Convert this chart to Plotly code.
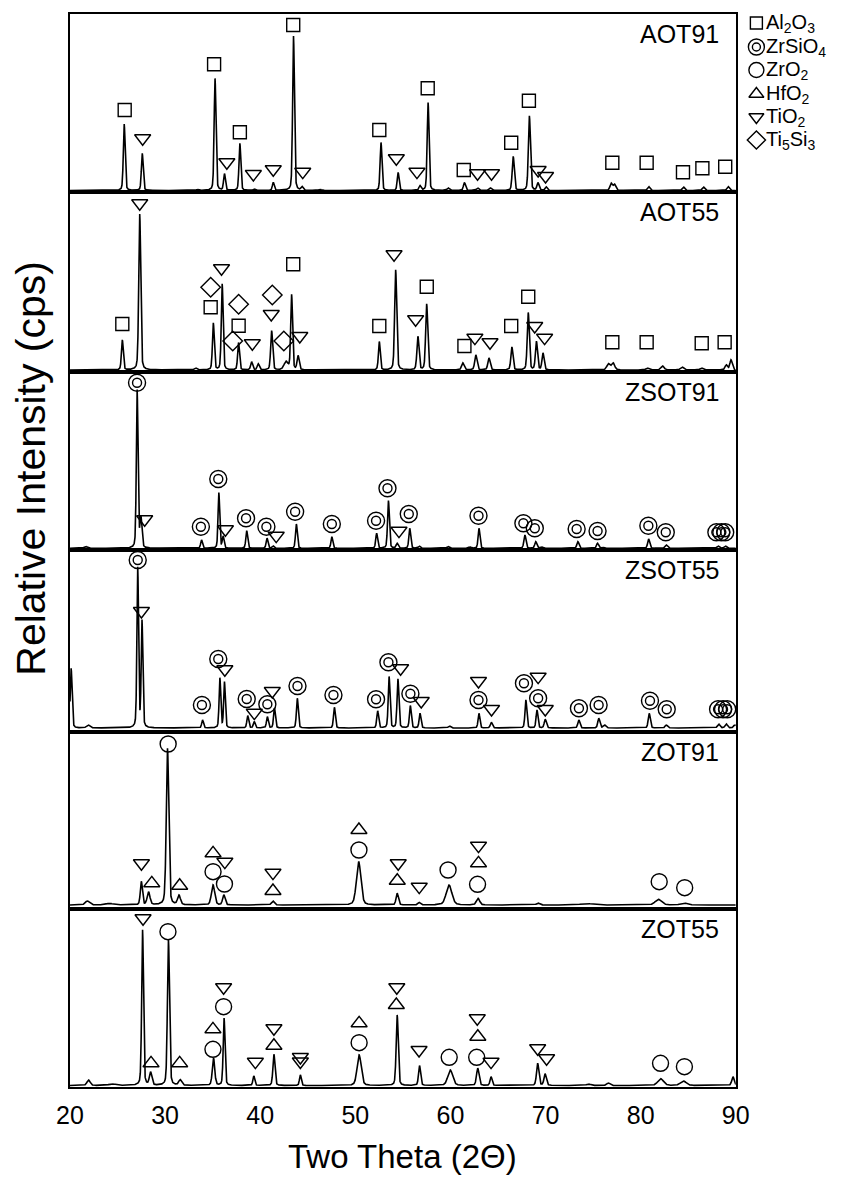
import numpy as np
import plotly.graph_objects as go

# ---------------- data ----------------
samples = ["AOT91", "AOT55", "ZSOT91", "ZSOT55", "ZOT91", "ZOT55"]

two_theta = np.round(np.arange(20.0, 90.0001, 0.01), 2)

# diffraction peaks: (2-theta, net intensity above background, FWHM)
aot91_peaks = [
    (25.70, 66.5, 0.22), (27.60, 37.0, 0.22), (33.40, 1.0, 0.30), (35.25, 112.0, 0.22),
    (36.24, 16.5, 0.22), (37.86, 47.0, 0.22), (39.37, 1.5, 0.25), (41.37, 8.0, 0.22),
    (43.50, 154.5, 0.22), (44.40, 3.5, 0.25), (46.30, 1.0, 0.30), (52.70, 48.0, 0.22),
    (54.50, 18.0, 0.22), (56.80, 4.5, 0.25), (57.65, 88.0, 0.22), (59.75, 2.5, 0.30),
    (61.47, 8.0, 0.25), (62.85, 2.5, 0.30), (64.20, 2.5, 0.30), (66.60, 34.0, 0.25),
    (68.30, 74.5, 0.25), (69.20, 7.5, 0.25), (70.07, 3.5, 0.25), (76.90, 7.0, 0.30),
    (77.25, 6.0, 0.30), (80.84, 4.0, 0.30), (84.50, 3.5, 0.30), (86.60, 3.5, 0.30),
    (89.20, 4.0, 0.30),
]
aot55_peaks = [
    (25.50, 30.0, 0.22), (27.33, 156.0, 0.24), (33.20, 2.0, 0.30), (35.07, 46.7, 0.22),
    (36.00, 86.0, 0.22), (37.72, 27.3, 0.22), (39.10, 8.0, 0.25), (39.79, 6.0, 0.25),
    (41.20, 39.3, 0.24), (42.71, 8.0, 0.50), (43.30, 75.0, 0.22), (43.98, 14.0, 0.25),
    (52.52, 28.3, 0.22), (54.24, 100.0, 0.25), (56.58, 33.3, 0.25), (57.50, 66.0, 0.25),
    (61.30, 7.0, 0.30), (62.67, 15.0, 0.28), (64.05, 12.0, 0.28), (66.46, 23.0, 0.25),
    (68.18, 57.3, 0.25), (69.04, 28.3, 0.25), (69.73, 16.7, 0.25), (76.60, 6.0, 0.40),
    (77.10, 7.0, 0.40), (80.70, 2.0, 0.40), (82.30, 4.0, 0.40), (84.35, 3.0, 0.40),
    (86.40, 2.0, 0.40), (89.00, 5.0, 0.30), (89.50, 10.0, 0.30),
]
zsot91_peaks = [
    (21.65, 1.8, 0.40), (27.06, 158.0, 0.20), (27.45, 30.0, 0.25), (33.83, 8.3, 0.22),
    (35.65, 55.6, 0.20), (36.10, 11.6, 0.22), (38.58, 17.6, 0.22), (40.72, 10.0, 0.22),
    (41.34, 2.3, 0.25), (43.80, 24.3, 0.22), (47.53, 11.6, 0.22), (52.24, 15.0, 0.22),
    (53.48, 47.6, 0.22), (54.40, 4.8, 0.25), (55.72, 20.0, 0.22), (56.72, 2.3, 0.25),
    (59.75, 1.8, 0.30), (62.05, 1.3, 0.30), (63.00, 20.0, 0.22), (67.83, 13.3, 0.25),
    (68.97, 6.6, 0.25), (69.60, 1.3, 0.30), (73.40, 6.6, 0.25), (75.47, 5.0, 0.25),
    (76.00, 1.3, 0.30), (80.84, 9.3, 0.25), (82.70, 3.3, 0.30), (88.14, 2.3, 0.30),
    (88.90, 2.3, 0.30),
]
zsot55_peaks = [
    (20.12, 59.7, 0.22), (21.90, 3.0, 0.40), (27.12, 159.7, 0.20), (27.57, 106.3, 0.20),
    (33.94, 8.0, 0.22), (35.76, 49.7, 0.20), (36.24, 45.7, 0.20), (38.69, 12.3, 0.22),
    (39.37, 6.3, 0.22), (40.75, 11.3, 0.22), (41.50, 19.7, 0.22), (43.90, 29.7, 0.22),
    (47.80, 20.7, 0.22), (52.35, 17.0, 0.22), (53.55, 51.3, 0.22), (54.48, 49.0, 0.22),
    (55.78, 22.3, 0.22), (56.80, 14.7, 0.22), (59.90, 2.0, 0.30), (63.00, 14.7, 0.22),
    (64.30, 5.7, 0.25), (67.93, 28.0, 0.22), (69.10, 18.0, 0.22), (69.97, 8.7, 0.25),
    (73.50, 8.0, 0.25), (75.60, 9.7, 0.25), (76.20, 3.0, 0.30), (80.90, 14.7, 0.25),
    (82.70, 3.0, 0.30), (88.20, 4.0, 0.30), (89.00, 4.0, 0.30), (89.90, 3.0, 0.30),
]
zot91_peaks = [
    (21.82, 4.0, 0.50), (24.13, 1.5, 1.00), (27.50, 23.3, 0.25), (28.26, 12.7, 0.35),
    (30.25, 156.7, 0.30), (31.46, 9.3, 0.35), (35.04, 20.0, 0.40), (36.17, 10.0, 0.30),
    (41.33, 4.0, 0.35), (50.35, 43.3, 0.55), (54.40, 11.7, 0.28), (56.70, 2.5, 0.30),
    (59.85, 20.0, 0.70), (62.90, 6.7, 0.40), (69.20, 2.0, 0.40), (74.30, 1.5, 1.50),
    (81.87, 5.7, 0.80), (84.53, 2.0, 0.80),
]
zot55_peaks = [
    (21.95, 5.5, 0.40), (24.40, 1.5, 0.80), (27.63, 155.5, 0.22), (28.47, 12.8, 0.30),
    (30.35, 145.5, 0.25), (31.58, 5.5, 0.35), (35.09, 27.2, 0.30), (36.20, 67.2, 0.22),
    (39.32, 9.5, 0.22), (41.44, 31.2, 0.25), (44.22, 10.5, 0.22), (50.40, 30.5, 0.50),
    (54.40, 70.5, 0.25), (56.75, 19.8, 0.25), (59.98, 15.5, 0.60), (62.87, 17.2, 0.30),
    (64.27, 8.8, 0.25), (69.17, 22.2, 0.28), (69.95, 11.5, 0.28), (74.50, 1.5, 0.50),
    (76.60, 2.5, 0.40), (82.10, 6.8, 0.70), (84.50, 4.5, 0.70), (89.70, 8.8, 0.30),
]
peak_tables = [aot91_peaks, aot55_peaks, zsot91_peaks, zsot55_peaks, zot91_peaks, zot55_peaks]
background = [1.5, 2.0, 1.7, 4.0, 4.0, 1.5]

# phase identification marks: sample -> phase -> ([2-theta], [intensity])
phase_marks = {
    "AOT91": {
        "Al2O3": ([25.75, 35.15, 37.86, 43.47, 52.52, 57.61, 61.40, 66.39, 68.25, 77.02, 80.63, 84.45, 86.49, 88.89],
                  [82, 127.7, 59.7, 167, 62, 103.7, 22, 49.3, 91.3, 29.3, 29.3, 19.7, 23.7, 25.3]),
        "TiO2": ([27.64, 36.49, 39.28, 41.37, 44.47, 54.31, 56.48, 62.85, 64.32, 69.22, 70.00],
                 [53.7, 29.7, 18, 22.7, 20.3, 33.7, 20.3, 18.7, 18.7, 22, 16]),
    },
    "AOT55": {
        "Al2O3": ([25.50, 34.79, 37.73, 43.47, 52.52, 57.51, 61.47, 66.39, 68.18, 77.02, 80.63, 86.42, 88.83],
                  [48, 64.7, 46.3, 107.7, 46, 85.3, 26, 46, 75.3, 29.7, 29.7, 28.7, 29.7]),
        "TiO2": ([27.33, 35.93, 39.17, 41.16, 44.16, 54.07, 56.34, 62.57, 64.16, 68.86, 69.90],
                 [168.7, 103.7, 28.7, 58, 36, 117.7, 52.7, 34.3, 29.7, 46, 34.3]),
        "Ti5Si3": ([34.79, 37.73, 37.11, 41.27, 42.48],
                   [84.7, 67.7, 31, 77, 31]),
    },
    "ZSOT91": {
        "ZrSiO4": ([27.05, 33.76, 35.59, 38.51, 40.65, 43.67, 47.53, 52.18, 53.38, 55.62, 62.95, 67.67, 68.87,
                    73.27, 75.47, 80.81, 82.64, 87.96, 88.48, 88.89],
                   [167.3, 23.3, 71, 31.7, 23.3, 38.3, 26, 29.3, 61.7, 36, 34.3, 26.7, 21.7,
                    21, 19, 24.3, 17.7, 17.7, 17.7, 17.7]),
        "TiO2": ([27.85, 36.34, 41.68, 54.59], [30.7, 20.7, 14.3, 19.3]),
    },
    "ZSOT55": {
        "ZrSiO4": ([27.12, 33.87, 35.59, 38.58, 40.75, 43.92, 47.70, 52.18, 53.48, 55.79, 62.95, 67.73, 69.22,
                    73.51, 75.58, 80.98, 82.74, 88.14, 88.66, 89.10],
                   [172, 27, 73, 33, 27.7, 46, 37, 32.7, 69.7, 38.3, 32, 48.7, 33.7,
                    23.7, 27, 31.3, 22.7, 22.7, 22.7, 22.7]),
        "TiO2": ([27.51, 36.28, 39.38, 41.27, 54.76, 56.93, 62.95, 64.32, 69.22, 69.97],
                 [121, 62.7, 19.3, 41, 63.7, 31, 51, 23, 55.3, 23]),
    },
    "ZOT91": {
        "ZrO2": ([30.32, 35.04, 36.24, 50.38, 59.75, 62.85, 81.95, 84.63],
                 [165, 37.3, 25, 59, 39, 24.7, 27.3, 21.3]),
        "HfO2": ([28.60, 31.53, 35.04, 41.34, 50.38, 54.41, 62.95],
                 [25.7, 23.3, 55.7, 18, 79, 28.3, 45.7]),
        "TiO2": ([27.51, 36.28, 41.34, 54.51, 56.72, 62.95],
                 [45.7, 47.3, 36.3, 45.7, 22.3, 63.3]),
    },
    "ZOT55": {
        "ZrO2": ([30.30, 35.03, 36.15, 50.40, 59.87, 62.76, 82.09, 84.60],
                 [155.3, 37.7, 80.3, 44.3, 29.7, 29.7, 23.7, 20.3]),
        "HfO2": ([28.52, 31.53, 35.03, 41.44, 50.40, 54.31, 62.88],
                 [23.7, 23.7, 57.7, 41.3, 63.7, 82, 50.3]),
        "TiO2": ([27.68, 36.15, 39.49, 41.44, 44.22, 44.22, 54.36, 56.70, 62.82, 64.27, 69.17, 70.11],
                 [168.7, 99.7, 25.3, 58.7, 30, 25.5, 99.7, 37, 68.7, 25.3, 38.7, 28.7]),
    },
}

phases = ["Al2O3", "ZrSiO4", "ZrO2", "HfO2", "TiO2", "Ti5Si3"]
phase_labels = ["Al<sub>2</sub>O<sub>3</sub>", "ZrSiO<sub>4</sub>", "ZrO<sub>2</sub>",
                "HfO<sub>2</sub>", "TiO<sub>2</sub>", "Ti<sub>5</sub>Si<sub>3</sub>"]
x_ticks = [20, 30, 40, 50, 60, 70, 80, 90]

# ---------------- layout geometry ----------------
W, H = 846, 1177
L_PX, R_PX, T_PX, B_PX = 70, 748, 14, 1087
panel_edges = [14, 192, 372, 550, 732, 909, 1087]
plot_w = W - L_PX
plot_h = B_PX - T_PX
x_dom_end = (R_PX - L_PX) / plot_w

symbol_style = {
    "Al2O3": [dict(symbol="square-open", size=13)],
    "ZrSiO4": [dict(symbol="circle-open", size=17), dict(symbol="circle-open", size=9)],
    "ZrO2": [dict(symbol="circle-open", size=16)],
    "HfO2": [dict(symbol="triangle-up-open", size=14)],
    "TiO2": [dict(symbol="triangle-down-open", size=14)],
    "Ti5Si3": [dict(symbol="diamond-open", size=15)],
}

FONT = "Liberation Sans, Arial, Helvetica, sans-serif"


def profile(peaks, base):
    y = np.full_like(two_theta, base, dtype=float)
    for pos, h, w in peaks:
        d = (two_theta - pos) / (w / 2.0)
        y += h * (0.3 / (1.0 + d ** 2) + 0.7 * np.exp(-np.log(2.0) * d ** 2))
    return y


fig = go.Figure()
layout_axes = {}
annotations = []

for i, name in enumerate(samples):
    k = i + 1
    xa = "x" if k == 1 else f"x{k}"
    ya = "y" if k == 1 else f"y{k}"
    top, bot = panel_edges[i], panel_edges[i + 1]
    dom = [(B_PX - bot) / plot_h, (B_PX - top) / plot_h]
    span = bot - top

    fig.add_trace(go.Scatter(
        x=two_theta, y=profile(peak_tables[i], background[i]),
        mode="lines", line=dict(color="black", width=1.6),
        xaxis=xa, yaxis=ya, showlegend=False, hoverinfo="skip"))

    for ph, (px, py) in phase_marks[name].items():
        for st in symbol_style[ph]:
            fig.add_trace(go.Scatter(
                x=px, y=py, mode="markers", xaxis=xa, yaxis=ya, showlegend=False,
                marker=dict(symbol=st["symbol"], size=st["size"], color="black",
                            line=dict(color="black", width=1.4)),
                cliponaxis=False, hoverinfo="skip"))

    bottom_panel = (k == len(samples))
    layout_axes["xaxis" if k == 1 else f"xaxis{k}"] = dict(
        domain=[0, x_dom_end], range=[20, 90], anchor=ya,
        showline=True, linecolor="black", linewidth=2, mirror=True,
        showgrid=False, zeroline=False,
        tickvals=x_ticks if bottom_panel else [],
        ticks="outside" if bottom_panel else "", ticklen=5, tickcolor="rgba(0,0,0,0)",
        showticklabels=bottom_panel,
        tickfont=dict(family=FONT, size=25, color="black"),
    )
    layout_axes["yaxis" if k == 1 else f"yaxis{k}"] = dict(
        domain=dom, range=[0, span], anchor=xa,
        showline=True, linecolor="black", linewidth=2, mirror=True,
        showgrid=False, zeroline=False, showticklabels=False, ticks="",
    )
    annotations.append(dict(
        text=name, xref="paper", yref="paper",
        x=(733 - L_PX) / plot_w, y=(B_PX - (top + 20)) / plot_h,
        xanchor="right", yanchor="middle", showarrow=False,
        font=dict(family=FONT, size=25, color="black")))

# phase key drawn on its own pixel-scaled axis to the right of the panels
legend_rows = [23, 47, 70, 94, 117, 140]
for ph, lab, ry in zip(phases, phase_labels, legend_rows):
    for st in symbol_style[ph]:
        fig.add_trace(go.Scatter(
            x=[769], y=[ry], mode="markers", xaxis="x7", yaxis="y7", showlegend=False,
            marker=dict(symbol=st["symbol"], size=st["size"] - 1, color="black",
                        line=dict(color="black", width=1.4)),
            cliponaxis=False, hoverinfo="skip"))
    annotations.append(dict(
        text=lab, xref="x7", yref="y7", x=777, y=ry, xanchor="left", yanchor="middle",
        showarrow=False, font=dict(family=FONT, size=20, color="black")))

layout_axes["xaxis7"] = dict(domain=[x_dom_end, 1], range=[R_PX, W], anchor="y7",
                             visible=False, fixedrange=True)
layout_axes["yaxis7"] = dict(domain=[0, 1], range=[B_PX, T_PX], anchor="x7",
                             visible=False, fixedrange=True)

annotations.append(dict(
    text="Two Theta (2\u0398)", xref="paper", yref="paper",
    x=((L_PX + R_PX) / 2 - L_PX) / plot_w, y=(B_PX - 1156) / plot_h,
    xanchor="center", yanchor="middle", showarrow=False,
    font=dict(family=FONT, size=33, color="black")))
annotations.append(dict(
    text="Relative Intensity (cps)", xref="paper", yref="paper",
    x=(30 - L_PX) / plot_w, y=(B_PX - 468) / plot_h, textangle=-90,
    xanchor="center", yanchor="middle", showarrow=False,
    font=dict(family=FONT, size=41, color="black")))

fig.update_layout(
    width=W, height=H,
    margin=dict(l=L_PX, r=0, t=T_PX, b=H - B_PX),
    paper_bgcolor="white", plot_bgcolor="white",
    showlegend=False, annotations=annotations,
    **layout_axes,
)

fig.write_html("out.html")
